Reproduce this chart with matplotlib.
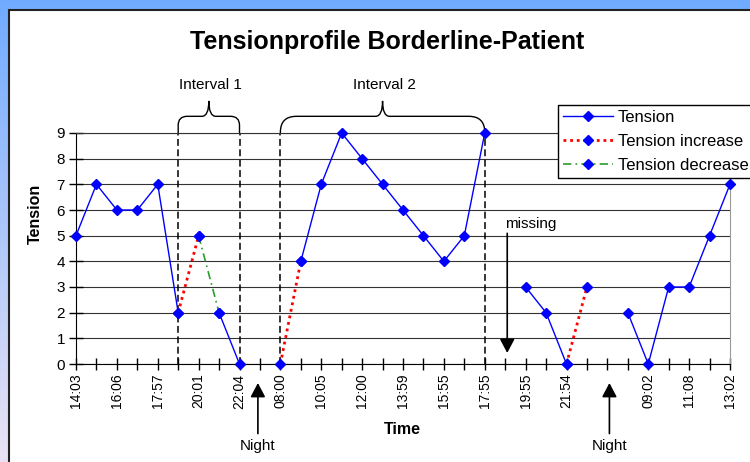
import numpy as np
import matplotlib
matplotlib.use('Agg')
import matplotlib.pyplot as plt
from matplotlib.path import Path
from matplotlib.patches import PathPatch, Rectangle

plt.rcParams['font.family'] = ['Liberation Sans', 'DejaVu Sans']

nan = np.nan

# categories (only every other time is labelled in the original)
times = ['14:03', '', '16:06', '', '17:57', '', '20:01', '', '22:04', '',
         '08:00', '', '10:05', '', '12:00', '', '13:59', '', '15:55', '',
         '17:55', '', '19:55', '', '21:54', '', '', '', '09:02', '',
         '11:08', '', '13:02']

tension = [5, 7, 6, 6, 7, 2, nan, 2, 0, nan,
           nan, 4, 7, 9, 8, 7, 6, 5, 4, 5,
           9, nan, 3, 2, 0, nan, nan, 2, 0, 3,
           3, 5, 7]
tension_increase = [nan, nan, nan, nan, nan, 2, 5, nan, nan, nan,
                    0, 4, nan, nan, nan, nan, nan, nan, nan, nan,
                    nan, nan, nan, nan, 0, 3, nan, nan, nan, nan,
                    nan, nan, nan]
tension_decrease = [nan, nan, nan, nan, nan, nan, 5, 2, nan, nan,
                    nan, nan, nan, nan, nan, nan, nan, nan, nan, nan,
                    nan, nan, nan, nan, nan, nan, nan, nan, nan, nan,
                    nan, nan, nan]

intervals = [(5, 8, 'Interval 1'), (10, 20, 'Interval 2')]
nights = [8.9, 26.1]
missing_at = 21.1

x = np.arange(len(times))

fig = plt.figure(figsize=(7.5, 4.62), dpi=100)

# background gradient + white chart area
bg = fig.add_axes([0, 0, 1, 1])
top = np.array([0.44, 0.67, 1.0])
bot = np.array([0.92, 0.89, 0.96])
t = np.linspace(0, 1, 200)[:, None]
grad = (top * (1 - t) + bot * t)[:, None, :]
bg.imshow(grad, extent=[0, 1, 0, 1], aspect='auto', transform=bg.transAxes)
bg.add_patch(Rectangle((8.5 / 750, -0.2), 1.2, 1.2 - 9.5 / 462, facecolor='white',
                       edgecolor='#222222', lw=1.5, transform=bg.transAxes, clip_on=False))
bg.set_xlim(0, 1)
bg.set_ylim(0, 1)
bg.axis('off')

ax = fig.add_axes([76 / 750, 98 / 462, 654 / 750, 231 / 462])
ax.set_facecolor('none')
ax.set_xlim(0, 32)
ax.set_ylim(0, 9)

ax.set_yticks(range(10))
ax.yaxis.grid(True, color='#333333', lw=0.8)
ax.set_axisbelow(True)
ax.set_xticks(x)
ax.set_xticklabels(times, rotation=90, fontsize=10)
ax.tick_params(axis='x', direction='inout', length=8, width=1, pad=3)
ax.tick_params(axis='y', direction='inout', length=10, width=1, pad=3, labelsize=11)
ax.spines['left'].set_color('black')
ax.spines['bottom'].set_color('black')
ax.spines['right'].set_color('#999999')
ax.spines['top'].set_color('#333333')
ax.spines['top'].set_linewidth(0.8)

# interval markers
sx = 654 / 32.0
sy = 231 / 9.0


def brace(x0, x1, xm, ymid, ytip, r):
    rx, ry = r / sx, r / sy
    cx = 7 / sx
    verts = [(x0, 9), (x0, ymid - ry), (x0, ymid), (x0 + rx, ymid),
             (xm - cx, ymid), (xm, ymid), (xm, ytip),
             (xm, ymid), (xm + cx, ymid),
             (x1 - rx, ymid), (x1, ymid), (x1, ymid - ry), (x1, 9)]
    codes = [Path.MOVETO, Path.LINETO, Path.CURVE3, Path.CURVE3,
             Path.LINETO, Path.CURVE3, Path.CURVE3,
             Path.CURVE3, Path.CURVE3,
             Path.LINETO, Path.CURVE3, Path.CURVE3, Path.LINETO]
    ax.add_patch(PathPatch(Path(verts, codes), fill=False, ec='black', lw=1,
                           clip_on=False))


for (a, b, lab), r in zip(intervals, [9, 16]):
    for xv in (a, b):
        ax.plot([xv, xv], [0, 9], color='black', lw=1.1, ls=(0, (4.5, 2.3)), zorder=2)
    mid = (a + b) / 2.0
    brace(a, b, mid, 9.65, 10.25, r)
    ax.text(mid + 0.1, 10.72, lab, ha='center', va='baseline', fontsize=11)

ax.plot(x, tension, color='blue', lw=1, marker='D', ms=5.5, label='Tension',
        zorder=4, clip_on=False)
ax.plot(x, tension_increase, color='red', lw=2, ls=(0, (1, 1.4)), marker='D', ms=5.5,
        mfc='blue', mec='blue', label='Tension increase', zorder=3, clip_on=False)
ax.plot(x, tension_decrease, color='#2e9a2e', lw=1.2, ls=(0, (5, 2.5, 1, 2.5)), marker='D',
        ms=5.5, mfc='blue', mec='blue', label='Tension decrease', zorder=3, clip_on=False)

arrow = dict(arrowstyle='-|>,head_length=0.85,head_width=0.45', color='black', lw=1.2,
             mutation_scale=10, shrinkA=2, shrinkB=0)
for n in nights:
    ax.annotate('Night', xy=(n, -0.74), xytext=(n, -3.2), ha='center', va='center',
                fontsize=11, arrowprops=arrow, annotation_clip=False)

ax.text(20.99, 5.45, 'missing', ha='left', va='center', fontsize=11)
ax.annotate('', xy=(missing_at, 0.43), xytext=(missing_at, 5.2), arrowprops=arrow,
            annotation_clip=False)

ax.legend(loc='upper left', bbox_to_anchor=(558 / 750, 1 - 105 / 462),
          bbox_transform=fig.transFigure, borderaxespad=0, fontsize=12,
          frameon=True, fancybox=False, edgecolor='black', framealpha=1,
          handlelength=3.0, handletextpad=0.3, labelspacing=0.55, borderpad=0.3)
ax.get_legend().get_frame().set_linewidth(1)

fig.text(387 / 750, 1 - 49 / 462, 'Tensionprofile Borderline-Patient', ha='center',
         va='baseline', fontsize=18, fontweight='bold')
fig.text(35 / 750, 248 / 462, 'Tension', rotation=90, ha='center', va='center',
         fontsize=11.5, fontweight='bold')
fig.text(402 / 750, 1 - 429 / 462, 'Time', ha='center', va='center',
         fontsize=11.5, fontweight='bold')

fig.savefig('out.png', dpi=100)
